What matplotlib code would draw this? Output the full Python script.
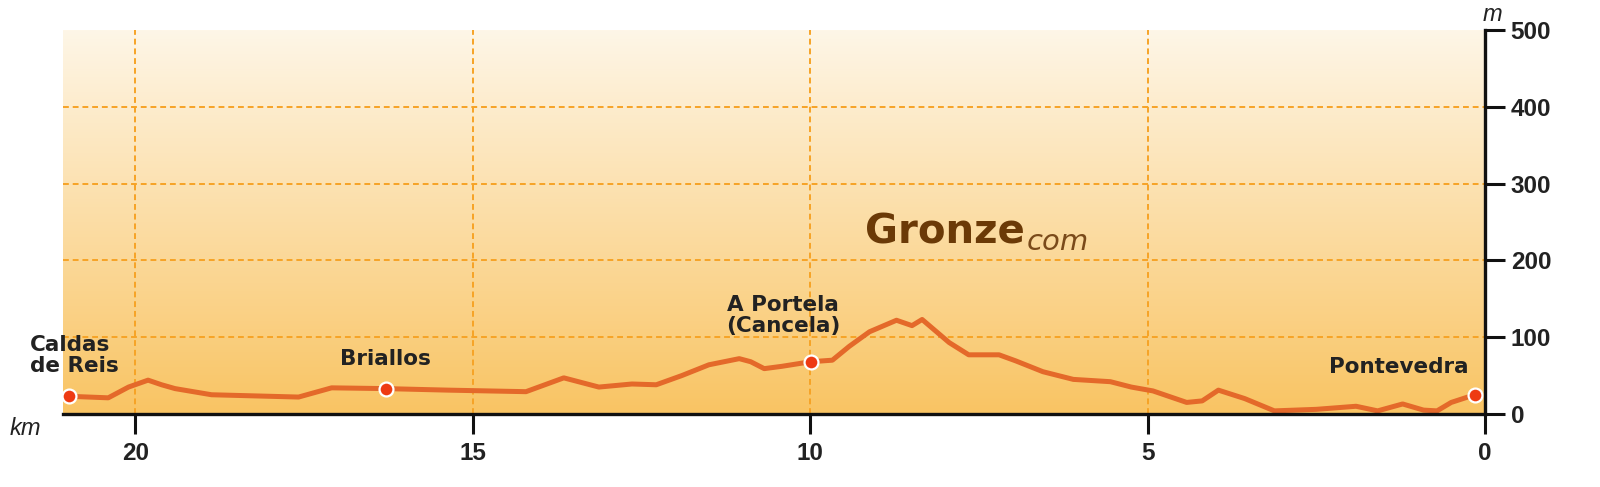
import numpy as np
import matplotlib.pyplot as plt
from matplotlib.colors import LinearSegmentedColormap

# elevation profile, km counted back from Pontevedra
km = [20.98, 20.40, 20.10, 19.81, 19.61, 19.41, 18.87, 17.58, 17.09, 16.29,
      15.36, 14.21, 13.65, 13.13, 12.64, 12.28, 11.90, 11.50, 11.05, 10.88,
      10.68, 10.42, 9.99, 9.67, 9.42, 9.12, 8.72, 8.49, 8.34, 7.94,
      7.65, 7.20, 6.95, 6.55, 6.10, 5.55, 5.24, 4.92, 4.42, 4.19,
      3.95, 3.56, 3.12, 2.50, 1.91, 1.59, 1.22, 0.91, 0.71, 0.50, 0.15]
alt = [23, 21, 35, 44, 38, 33, 25, 22, 34, 33,
       31, 29, 47, 35, 39, 38, 50, 64, 72, 68,
       59, 62, 68, 70, 88, 107, 122, 115, 123, 93,
       77, 77, 69, 55, 45, 42, 35, 30, 15, 17,
       31, 20, 4, 6, 10, 4, 13, 5, 4, 15, 25]

stop_names = ['Caldas\nde Reis', 'Briallos', 'A Portela\n(Cancela)', 'Pontevedra']
stop_km = [20.98, 16.29, 9.99, 0.15]
stop_alt = [23, 33, 68, 25]
# label offsets in pixels and alignment
stop_offsets = [(5, 20), (0, 20), (-27, 26), (-6, 18)]
stop_ha = ['center', 'center', 'center', 'right']

x_ticks = [0, 5, 10, 15, 20]
y_ticks = [0, 100, 200, 300, 400, 500]

fig = plt.figure(figsize=(16, 4.87), dpi=100)
ax = fig.add_axes([0.0394, 0.150, 0.8887, 0.7885])

# background gradient
bg = LinearSegmentedColormap.from_list('bg', ['#f9c463', '#fef6e7'])
ax.imshow(np.linspace(0, 1, 256).reshape(-1, 1), cmap=bg, origin='lower',
          extent=[0, 1, 0, 1], transform=ax.transAxes, aspect='auto', zorder=0)

grid_kw = dict(color='#f6a326', lw=1.4, linestyle=(0, (3, 2)), zorder=1)
for v in x_ticks[1:]:
    ax.axvline(v, **grid_kw)
for v in y_ticks[1:-1]:
    ax.axhline(v, **grid_kw)

ax.plot(km, alt, color='#e4692a', lw=3.6, solid_joinstyle='round',
        solid_capstyle='round', zorder=3)
ax.plot(stop_km, stop_alt, 'o', ms=10, mfc='#ee3a12', mec='white', mew=1.6,
        zorder=4)

for name, x, y, off, ha in zip(stop_names, stop_km, stop_alt, stop_offsets, stop_ha):
    ax.annotate(name, (x, y), xytext=off, textcoords='offset pixels',
                ha=ha, va='bottom', multialignment='left',
                fontsize=15.5, fontweight='bold', family='DejaVu Sans',
                color='#222222', linespacing=1.05, zorder=5)

ax.set_xlim(21.07, 0)
ax.set_ylim(0, 500)
ax.set_xticks(x_ticks)
ax.set_yticks(y_ticks)
ax.yaxis.tick_right()

for s in ['left', 'top']:
    ax.spines[s].set_visible(False)
for s in ['bottom', 'right']:
    ax.spines[s].set_linewidth(2.4)
    ax.spines[s].set_color('#111111')
    ax.spines[s].set_zorder(6)

ax.tick_params(axis='x', direction='out', length=14.5, width=2.2, pad=6,
               labelsize=17.5, color='#111111', labelcolor='#222222')
ax.tick_params(axis='y', direction='out', length=14.5, width=2.2, pad=4,
               labelsize=17.5, color='#111111', labelcolor='#222222')
for lbl in ax.get_xticklabels() + ax.get_yticklabels():
    lbl.set_family('Liberation Sans')
    lbl.set_fontweight('bold')

fig.text(0.016, 0.121, 'km', fontsize=17, style='italic', family='Liberation Sans',
         color='#222222', ha='center', va='center')
fig.text(0.933, 0.971, 'm', fontsize=17, style='italic', family='Liberation Sans',
         color='#222222', ha='center', va='center')

g = fig.text(0.5406, 0.501, 'Gronze', fontsize=29, fontweight='bold',
             family='DejaVu Sans', color='#6b3a07', ha='left', va='baseline')
ax.annotate('com', xy=(1, 0), xycoords=g, xytext=(2, 2), textcoords='offset pixels',
            fontsize=21, style='italic', family='DejaVu Sans', color='#7a4a1a',
            ha='left', va='baseline')

fig.savefig('out.png', dpi=100)
